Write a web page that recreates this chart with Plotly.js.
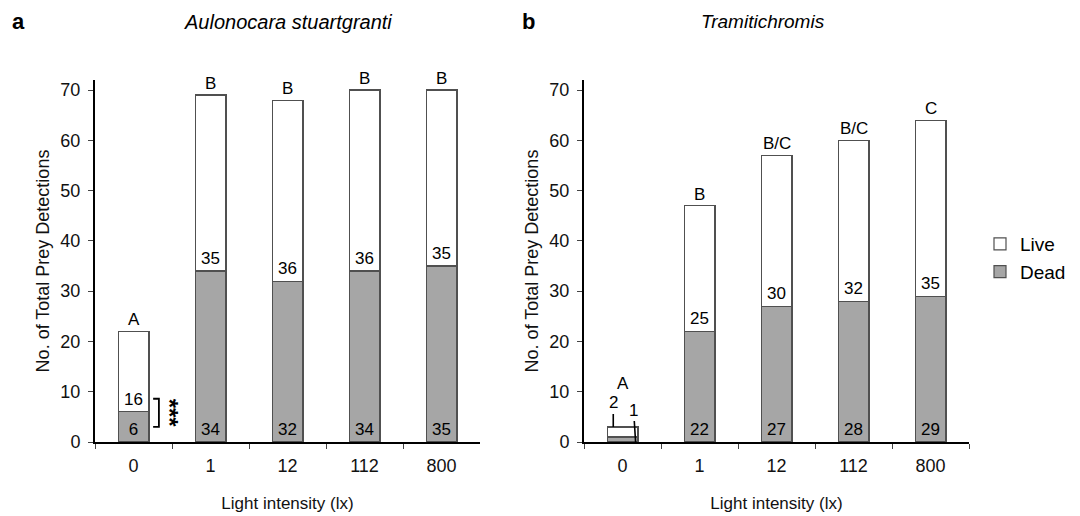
<!DOCTYPE html>
<html>
<head>
<meta charset="utf-8">
<script src="https://cdn.plot.ly/plotly-3.0.1.min.js"></script>
<style>html,body{margin:0;padding:0;background:#fff;}#chart{width:1080px;height:516px;}</style>
</head>
<body>
<div id="chart"></div>
<script>
// ---- data ----
const categories = ["0", "1", "12", "112", "800"];
const deadA = [6, 34, 32, 34, 35];
const liveA = [16, 35, 36, 36, 35];
const lettersA = ["A", "B", "B", "B", "B"];
const deadB = [1, 22, 27, 28, 29];
const liveB = [2, 25, 30, 32, 35];
const lettersB = ["A", "B", "B/C", "B/C", "C"];
const titleA = "Aulonocara stuartgranti";
const titleB = "Tramitichromis";
const yTitle = "No. of Total Prey Detections";
const xTitle = "Light intensity (lx)";

const FONT = "Liberation Sans, Arial, sans-serif";
const deadColor = "#a6a6a6";
const lineColor = "#505050";

function barTrace(vals, name, xa, ya, fill, showleg, texts) {
  return {
    type: "bar", x: categories, y: vals, name: name,
    xaxis: xa, yaxis: ya, width: 0.4,
    marker: {color: fill, line: {color: lineColor, width: 1.2}},
    text: texts, textposition: "inside", insidetextanchor: "start",
    textangle: 0, constraintext: "none",
    insidetextfont: {family: FONT, size: 17, color: "#000"},
    showlegend: showleg, hoverinfo: "x+y+name", cliponaxis: false
  };
}

const totA = deadA.map((d, i) => d + liveA[i]);
const totB = deadB.map((d, i) => d + liveB[i]);

const traces = [
  barTrace(deadA, "Dead", "x", "y", deadColor, true, deadA.map(String)),
  barTrace(liveA, "Live", "x", "y", "#ffffff", true, liveA.map(String)),
  barTrace(deadB, "Dead", "x2", "y2", deadColor, false, deadB.map((v, i) => i === 0 ? "" : String(v))),
  barTrace(liveB, "Live", "x2", "y2", "#ffffff", false, liveB.map((v, i) => i === 0 ? "" : String(v)))
];

const annotations = [];
lettersA.forEach((t, i) => annotations.push({
  x: i, y: totA[i], xref: "x", yref: "y", text: t, showarrow: false,
  yanchor: "bottom", yshift: 0, font: {family: FONT, size: 17, color: "#000"}
}));
lettersB.forEach((t, i) => annotations.push({
  x: i, y: totB[i], xref: "x2", yref: "y2", text: t, showarrow: false,
  yanchor: "bottom", yshift: i === 0 ? 32 : 0, font: {family: FONT, size: 17, color: "#000"}
}));
// leader labels for the tiny bar in panel b
annotations.push({x: -0.12, y: totB[0], xref: "x2", yref: "y2", text: String(liveB[0]),
  showarrow: true, arrowhead: 0, arrowwidth: 1.6, arrowcolor: "#000", ax: 0, ay: -24,
  font: {family: FONT, size: 17, color: "#000"}});
annotations.push({x: 0.17, y: 0, xref: "x2", yref: "y2", text: String(deadB[0]),
  showarrow: true, arrowhead: 0, arrowwidth: 1.6, arrowcolor: "#000", ax: -2, ay: -32,
  font: {family: FONT, size: 17, color: "#000"}});
// significance stars
annotations.push({x: 0.47, y: 5.7, xref: "x", yref: "y", text: "<b>***</b>", textangle: 90,
  showarrow: false, font: {family: FONT, size: 24, color: "#000"}});
// panel letters and titles
annotations.push({x: 18 / 1080, y: 1 - 22 / 516, xref: "paper", yref: "paper", text: "<b>a</b>",
  showarrow: false, xanchor: "center", yanchor: "middle", font: {family: FONT, size: 22, color: "#000"}});
annotations.push({x: 528 / 1080, y: 1 - 22 / 516, xref: "paper", yref: "paper", text: "<b>b</b>",
  showarrow: false, xanchor: "center", yanchor: "middle", font: {family: FONT, size: 22, color: "#000"}});
annotations.push({x: 288 / 1080, y: 1 - 22 / 516, xref: "paper", yref: "paper", text: "<i>" + titleA + "</i>",
  showarrow: false, xanchor: "center", yanchor: "middle", font: {family: FONT, size: 20, color: "#000"}});
annotations.push({x: 763 / 1080, y: 1 - 22 / 516, xref: "paper", yref: "paper", text: "<i>" + titleB + "</i>",
  showarrow: false, xanchor: "center", yanchor: "middle", font: {family: FONT, size: 19, color: "#000"}});

const shapes = [{
  type: "path", xref: "x", yref: "y",
  path: "M 0.255 8.6 L 0.33 8.6 L 0.33 3.0 L 0.255 3.0",
  line: {color: "#000", width: 1.8}
}];

function xaxis(domain, anchor) {
  return {
    domain: domain, anchor: anchor, type: "category", range: [-0.5, 4.5],
    tickson: "boundaries", ticks: "outside", ticklen: 5, tickwidth: 1, tickcolor: "#444",
    showline: true, linecolor: "#000", linewidth: 2, showgrid: false, zeroline: false,
    tickfont: {family: FONT, size: 18, color: "#111"}, ticklabelstandoff: 6,
    title: {text: xTitle, font: {family: FONT, size: 17, color: "#111"}, standoff: 23},
    automargin: false, fixedrange: true
  };
}
function yaxis(domain, anchor) {
  return {
    domain: domain, anchor: anchor, range: [0, 72], tickmode: "array",
    tickvals: [0, 10, 20, 30, 40, 50, 60, 70],
    ticks: "outside", ticklen: 5, tickwidth: 1, tickcolor: "#444",
    showline: true, linecolor: "#000", linewidth: 2, showgrid: false, zeroline: false,
    tickfont: {family: FONT, size: 18, color: "#111"}, ticklabelstandoff: 4,
    title: {text: yTitle, font: {family: FONT, size: 18, color: "#111"}, standoff: 6},
    automargin: false, fixedrange: true
  };
}

const yDom = [(516 - 442) / 516, (516 - 80) / 516];
const layout = {
  width: 1080, height: 516,
  margin: {l: 0, r: 0, t: 0, b: 0},
  paper_bgcolor: "#fff", plot_bgcolor: "#fff",
  barmode: "stack", bargap: 0.6,
  showlegend: true,
  legend: {x: 980 / 1080, y: 1 - 258 / 516, xanchor: "left", yanchor: "middle",
    font: {family: FONT, size: 19, color: "#000"}, tracegroupgap: 0, itemwidth: 30,
    bgcolor: "rgba(0,0,0,0)"},
  xaxis: xaxis([95 / 1080, 480 / 1080], "y"),
  yaxis: yaxis(yDom, "x"),
  xaxis2: xaxis([584 / 1080, 969 / 1080], "y2"),
  yaxis2: yaxis(yDom, "x2"),
  annotations: annotations,
  shapes: shapes,
  font: {family: FONT}
};

Plotly.newPlot("chart", traces, layout, {displayModeBar: false, staticPlot: true});
</script>
</body>
</html>
